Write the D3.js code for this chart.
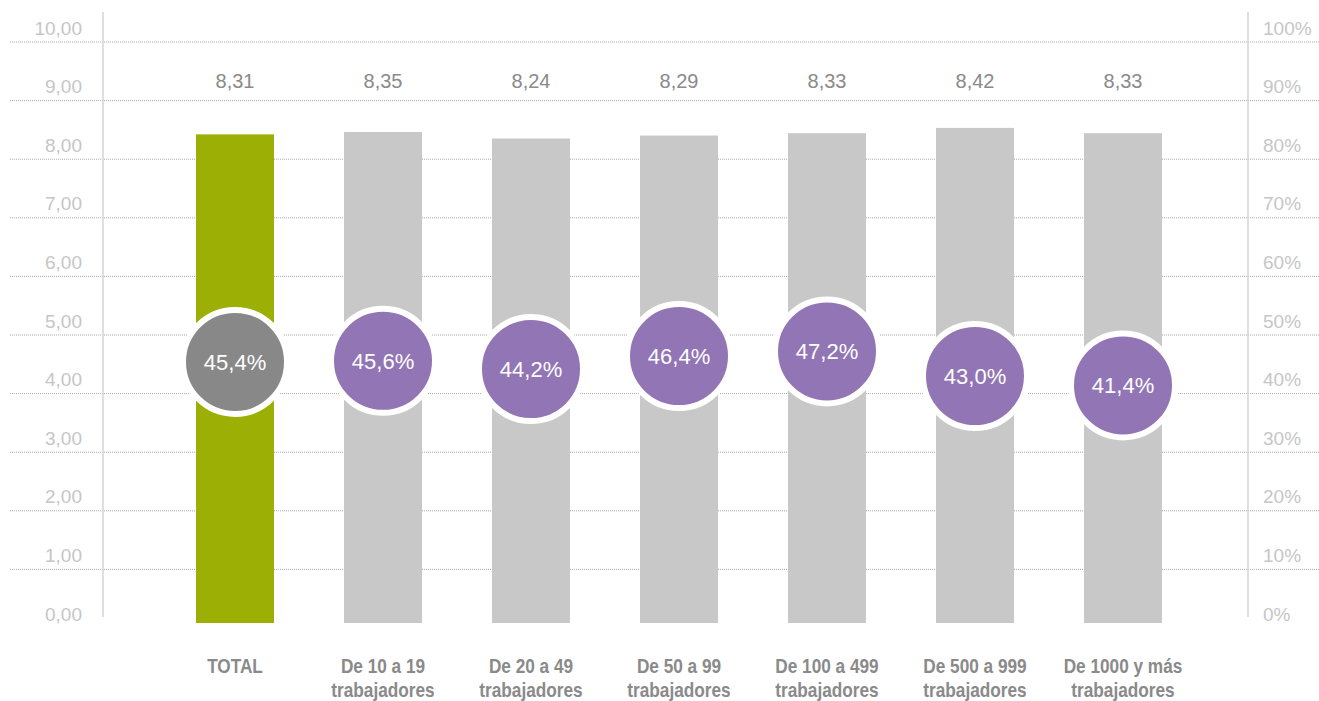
<!DOCTYPE html>
<html>
<head>
<meta charset="utf-8">
<script src="https://cdn.jsdelivr.net/npm/d3@7"></script>
<style>
  body { margin: 0; background: #fff; }
  svg { display: block; }
</style>
</head>
<body>
<div id="chart"></div>
<script>
// Data
const categories = ["TOTAL", "De 10 a 19|trabajadores", "De 20 a 49|trabajadores", "De 50 a 99|trabajadores",
  "De 100 a 499|trabajadores", "De 500 a 999|trabajadores", "De 1000 y más|trabajadores"];
const scores = [8.31, 8.35, 8.24, 8.29, 8.33, 8.42, 8.33];
const shares = [45.4, 45.6, 44.2, 46.4, 47.2, 43.0, 41.4];
const leftTicks = [0, 1, 2, 3, 4, 5, 6, 7, 8, 9, 10];
const rightTicks = [0, 10, 20, 30, 40, 50, 60, 70, 80, 90, 100];

const W = 1319, H = 701;
const comma = s => s.replace(".", ",");

const svg = d3.select("#chart")
  .append("svg")
  .attr("width", W)
  .attr("height", H);

// scales
const x = d3.scaleBand()
  .domain(categories)
  .range([161, 1197])
  .paddingInner(0.473)
  .paddingOuter(0.2365);

const yGrid = d3.scaleLinear().domain([0, 10]).range([628, 42]);
const yBar = d3.scaleLinear().domain([0, 10]).range([623, 35]);
const yPct = d3.scaleLinear().domain([0, 100]).range([628, 42]);

// dotted gridlines
svg.append("g")
  .selectAll("line")
  .data(leftTicks.filter(d => d > 0))
  .join("line")
  .attr("x1", 10)
  .attr("x2", W)
  .attr("y1", d => yGrid(d))
  .attr("y2", d => yGrid(d))
  .attr("stroke", "#a8a8a8")
  .attr("stroke-width", 1)
  .attr("stroke-dasharray", "1,1");

// axis lines
svg.append("line")
  .attr("x1", 103).attr("x2", 103).attr("y1", 12).attr("y2", 617)
  .attr("stroke", "#d4d4d4").attr("stroke-width", 1.5);
svg.append("line")
  .attr("x1", 1248).attr("x2", 1248).attr("y1", 12).attr("y2", 617)
  .attr("stroke", "#d4d4d4").attr("stroke-width", 1.5);

// left axis labels
const leftAxis = svg.append("g")
  .attr("transform", "translate(103,0)")
  .call(d3.axisLeft(yGrid)
    .tickValues(leftTicks)
    .tickFormat(d => comma(d3.format(".2f")(d)))
    .tickSize(0)
    .tickPadding(21));
leftAxis.select(".domain").remove();
leftAxis.selectAll("text")
  .attr("dy", -8)
  .attr("fill", "#c6c6c6")
  .style("font-family", "'Liberation Sans', Arial, sans-serif")
  .style("font-size", "19px");

// right axis labels
const rightAxis = svg.append("g")
  .attr("transform", "translate(1248,0)")
  .call(d3.axisRight(yPct)
    .tickValues(rightTicks)
    .tickFormat(d => d + "%")
    .tickSize(0)
    .tickPadding(15));
rightAxis.select(".domain").remove();
rightAxis.selectAll("text")
  .attr("dy", -8)
  .attr("fill", "#c6c6c6")
  .style("font-family", "'Liberation Sans', Arial, sans-serif")
  .style("font-size", "19px");

// bars
svg.append("g")
  .selectAll("rect")
  .data(categories)
  .join("rect")
  .attr("x", d => x(d))
  .attr("width", x.bandwidth())
  .attr("y", (d, i) => yBar(scores[i]))
  .attr("height", (d, i) => yBar(0) - yBar(scores[i]))
  .attr("fill", (d, i) => i === 0 ? "#9caf05" : "#c8c8c8");

// score labels above bars
svg.append("g")
  .selectAll("text")
  .data(categories)
  .join("text")
  .attr("x", d => x(d) + x.bandwidth() / 2)
  .attr("y", 88)
  .attr("text-anchor", "middle")
  .attr("fill", "#8a8a8a")
  .style("font-family", "'Liberation Sans', Arial, sans-serif")
  .style("font-size", "20px")
  .text((d, i) => comma(d3.format(".2f")(scores[i])));

// circles with percentages
const bubbles = svg.append("g")
  .selectAll("g")
  .data(categories)
  .join("g")
  .attr("transform", (d, i) => `translate(${x(d) + x.bandwidth() / 2},${yPct(shares[i])})`);

bubbles.append("circle")
  .attr("r", 52)
  .attr("fill", (d, i) => i === 0 ? "#888888" : "#9275b4")
  .attr("stroke", "#fff")
  .attr("stroke-width", 6);

bubbles.append("text")
  .attr("text-anchor", "middle")
  .attr("dy", "0.36em")
  .attr("fill", "#fff")
  .style("font-family", "'Liberation Sans', Arial, sans-serif")
  .style("font-size", "22px")
  .text((d, i) => comma(d3.format(".1f")(shares[i])) + "%");

// category labels (condensed look via horizontal squeeze)
const cat = svg.append("g")
  .selectAll("g")
  .data(categories)
  .join("g")
  .attr("transform", d => `translate(${x(d) + x.bandwidth() / 2},673) scale(0.82,1)`)
  .append("text")
  .attr("text-anchor", "middle")
  .attr("fill", "#8a8a8a")
  .style("font-family", "'Liberation Sans', Arial, sans-serif")
  .style("font-weight", "bold")
  .style("font-size", "21px");

cat.selectAll("tspan")
  .data(d => d.split("|"))
  .join("tspan")
  .attr("x", 0)
  .attr("dy", (d, i) => i === 0 ? 0 : 24)
  .text(d => d);
</script>
</body>
</html>
